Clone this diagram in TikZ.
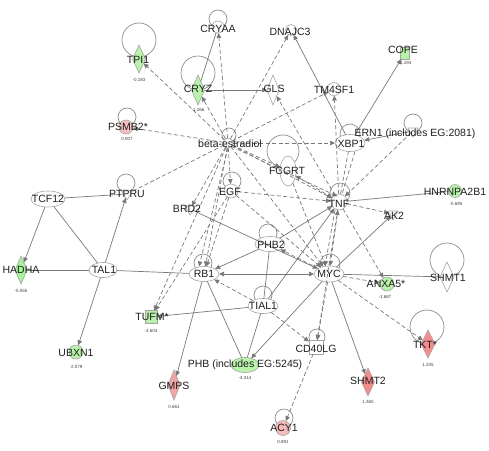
\documentclass[tikz,border=0pt]{standalone}
\usepackage{fontspec}
\setmainfont{Liberation Sans}
\usetikzlibrary{shapes.geometric,arrows.meta}
\definecolor{edgec}{RGB}{120,120,120}
\definecolor{shapec}{RGB}{165,165,165}
\definecolor{upc}{RGB}{242,165,165}
\definecolor{dnc}{RGB}{185,242,170}
\definecolor{txtc}{RGB}{30,30,30}
\begin{document}
\begin{tikzpicture}[x=1pt,y=-1pt,
  gn/.style={draw=shapec,line width=0.6pt,fill=white,inner sep=0pt,outer sep=0pt},
  ell/.style n args={2}{ellipse,minimum width=#1,minimum height=#2},
  dmd/.style n args={2}{diamond,minimum width=#1,minimum height=#2},
  circ/.style={circle,minimum size=#1},
  sq/.style n args={2}{rectangle,minimum width=#1,minimum height=#2},
  kin/.style={regular polygon,regular polygon sides=3,shape border rotate=180,minimum size=#1},
  lab/.style={font=\fontsize{10.5}{12}\selectfont,text=txtc,inner sep=0pt},
  val/.style={font=\fontsize{4.5}{5}\selectfont,text=black!75,inner sep=0pt},
  dl/.style={draw=edgec,line width=0.7pt},
  il/.style={draw=edgec,line width=0.7pt,dash pattern=on 4pt off 2.5pt},
  arr/.style={-{Triangle[length=5pt,width=4.5pt]}},
  barr/.style={{Triangle[length=5pt,width=4.5pt]}-{Triangle[length=5pt,width=4.5pt]}},
  lp/.style={draw=edgec!85,line width=0.7pt}
]
\useasboundingbox (0,0) rectangle (489,450);

% self loops
\draw[lp] (139,40) circle (17);
\draw[lp] (198,73) circle (17);
\draw[lp] (218,19) circle (9);
\draw[lp] (127,117) circle (9);
\draw[lp] (229,135) circle (7);
\draw[lp] (283,151) circle (16);
\draw[lp] (350,134) circle (10);
\draw[lp] (413,123) circle (9);
\draw[lp] (340,193) circle (10);
\draw[lp] (232,181) circle (9);
\draw[lp] (126,183) circle (9);
\draw[lp] (268,233) circle (9);
\draw[lp] (203,263) circle (9);
\draw[lp] (330,264) circle (10);
\draw[lp] (263,295) circle (9);
\draw[lp] (447,260) circle (17);
\draw[lp] (427,327) circle (17);
\draw[lp] (317,337) circle (8);
\draw[lp] (284,418) circle (9);

% shapes
\node[gn,circ=10] (estr) at (228,143) {};
\node[gn,dmd={13}{28},fill=dnc] (tpi1) at (139,59) {};
\node[gn,dmd={13}{30},fill=dnc] (cryz) at (198,90) {};
\node[gn,circ=12] (cryaa) at (218,27) {};
\node[gn,circ=11] (dnajc3) at (291,30) {};
\node[gn,dmd={12}{30}] (gls) at (273,90) {};
\node[gn,circ=13] (tm4sf1) at (334,89) {};
\node[gn,sq={9}{12},fill=dnc] (cope) at (405,53) {};
\node[gn,circ=14,fill=upc!70] (psmb2) at (126,127) {};
\node[gn,ell={30}{17}] (xbp1) at (350,143) {};
\node[gn,kin=12] (ern1) at (413,131) {};
\node[gn,ell={16}{30}] (fcgrt) at (288,171) {};
\node[gn,circ=16] (tnf) at (339,202) {};
\node[gn,circ=14] (egf) at (231,191) {};
\node[gn,kin=12] (brd2) at (190,209) {};
\node[gn,kin=12] (ptpru) at (127,194) {};
\node[gn,ell={34}{16}] (tcf12) at (48,199) {};
\node[gn,circ=13,fill=dnc] (hnrnp) at (455,191) {};
\node[gn,kin=12] (ak2) at (393,214) {};
\node[gn,ell={30}{15}] (phb2) at (270,244) {};
\node[gn,ell={30}{15}] (rb1) at (204,274) {};
\node[gn,ell={30}{16}] (myc) at (329,274) {};
\node[gn,ell={28}{15}] (tal1) at (103,270) {};
\node[gn,dmd={12}{28},fill=dnc!90!green] (hadha) at (21,270) {};
\node[gn,circ=14,fill=dnc] (anxa5) at (387,284) {};
\node[gn,dmd={14}{30}] (shmt1) at (447,277) {};
\node[gn,ell={30}{15}] (tial1) at (263,306) {};
\node[gn,sq={12}{13},fill=dnc] (tufm) at (151,317) {};
\node[gn,circ=14,fill=dnc] (ubxn1) at (76,352) {};
\node[gn,sq={14}{14}] (cd40lg) at (316,347) {};
\node[gn,ell={28}{15},fill=dnc] (phb) at (245,365) {};
\node[gn,dmd={12}{30},fill=upc] (gmps) at (174,385) {};
\node[gn,dmd={13}{28},fill=upc!85!red] (shmt2) at (368,382) {};
\node[gn,dmd={14}{28},fill=upc!85!red] (tkt) at (428,344) {};
\node[gn,circ=15,fill=upc!75] (acy1) at (283,428) {};

% direct (solid) relationships
\draw[dl] (cryaa) -- (cryz);
\draw[dl,arr] (cryz) -- (gls);
\draw[dl,arr] (xbp1) -- (dnajc3);
\draw[dl,arr] (xbp1) -- (cope);
\draw[dl,arr] (ern1) -- (xbp1);
\draw[dl] (hnrnp) -- (tnf);
\draw[dl,arr] (myc) -- (ak2);
\draw[dl] (myc) -- (shmt1);
\draw[dl,arr] (myc) -- (shmt2);
\draw[dl,arr] (myc) -- (phb);
\draw[dl,barr] (rb1) -- (myc);
\draw[dl,arr] (brd2) -- (myc);
\draw[dl,arr] (phb2) -- (tnf);
\draw[dl,arr] (phb2) -- (rb1);
\draw[dl] (phb2) -- (tial1);
\draw[dl] (tial1) -- (phb);
\draw[dl,arr] (tial1) -- (tnf);
\draw[dl,arr] (tial1) -- (tufm);
\draw[dl,arr] (rb1) -- (gmps);
\draw[dl] (rb1) -- (phb);
\draw[dl] (tal1) -- (rb1);
\draw[dl,arr] (tal1) -- (ubxn1);
\draw[dl,arr] (tal1) -- (ptpru);
\draw[dl] (tcf12) -- (tal1);
\draw[dl] (tcf12) -- (ptpru);
\draw[dl,arr] (tcf12) -- (hadha);
\draw[dl] (hadha) -- (tal1);

% indirect (dashed) relationships
\foreach \t in {tpi1,cryz,cryaa,psmb2,dnajc3,tm4sf1,xbp1,fcgrt,tnf,egf,brd2,rb1,tufm,myc}
  \draw[il,arr] (estr) -- (\t);
\draw[il] (estr) -- (ptpru);
\draw[il,arr] (estr.south) -- ([xshift=-5pt]rb1.north);
\draw[il,arr] (estr.south east) -- ([xshift=4pt]tnf.north west);
\draw[il,arr] (tnf) -- (gls);
\draw[il,arr] (tnf) -- (tm4sf1);
\draw[il] (xbp1) -- (tnf);
\draw[il] ([xshift=5pt]xbp1.south) -- ([xshift=3pt]tnf.north);
\draw[il,arr] (ern1) -- (tnf);
\draw[il,barr] (fcgrt) -- (tnf);
\draw[il,arr] (egf) -- (tnf);
\draw[il,arr] (tnf) -- (ak2);
\draw[il,arr] (tnf) -- (anxa5);
\draw[il,arr] (myc) -- (anxa5);
\draw[il,barr] (tnf) -- (myc);
\draw[il,arr] ([xshift=-4pt]tnf.south) -- ([xshift=-4pt]myc.north);
\draw[il,arr] (myc) -- (cd40lg);
\draw[il,arr] (tnf) -- (cd40lg);
\draw[il,arr] (myc) -- (tkt);
\draw[il,arr] (tial1) -- (cd40lg);
\draw[il,arr] (cd40lg) -- (acy1);
\draw[il,arr] (tial1) -- (rb1);
\draw[il,arr] (egf) -- (rb1);
\draw[il,arr] (egf) -- (myc);
\draw[il,arr] (egf) -- (tufm);
\draw[il,arr] (myc) -- (phb2);
\draw[il,arr] (fcgrt) -- (myc);

% labels
\node[lab] (estrl) at (230,144) {beta-estradiol};
\node[lab] (tpi1l) at (138,60) {TPI1};
\node[lab] (cryzl) at (198,89) {CRYZ};
\node[lab] (cryaal) at (218,29) {CRYAA};
\node[lab] (dnajc3l) at (290,32) {DNAJC3};
\node[lab] (glsl) at (274,89) {GLS};
\node[lab] (tm4sf1l) at (334,90) {TM4SF1};
\node[lab] (copel) at (403,50) {COPE};
\node[lab] (psmb2l) at (128,127) {PSMB2*};
\node[lab] (xbp1l) at (351,144) {XBP1};
\node[lab] (ern1l) at (415,134) {ERN1 (includes EG:2081)};
\node[lab] (fcgrtl) at (287,171) {FCGRT};
\node[lab] (tnfl) at (339,204) {TNF};
\node[lab] (egfl) at (230,192) {EGF};
\node[lab] (brd2l) at (187,209) {BRD2};
\node[lab] (ptprul) at (127,194) {PTPRU};
\node[lab] (tcf12l) at (48,199) {TCF12};
\node[lab] (hnrnpl) at (455,192) {HNRNPA2B1};
\node[lab] (ak2l) at (394,216) {AK2};
\node[lab] (phb2l) at (271,245) {PHB2};
\node[lab] (rb1l) at (204,274) {RB1};
\node[lab] (mycl) at (329,274) {MYC};
\node[lab] (tal1l) at (104,270) {TAL1};
\node[lab] (hadhal) at (21,270) {HADHA};
\node[lab] (anxa5l) at (386,284) {ANXA5*};
\node[lab] (shmt1l) at (448,278) {SHMT1};
\node[lab] (tial1l) at (263,306) {TIAL1};
\node[lab] (tufml) at (152,317) {TUFM*};
\node[lab] (ubxn1l) at (76,353) {UBXN1};
\node[lab] (cd40lgl) at (316,349) {CD40LG};
\node[lab] (phbl) at (245,365) {PHB (includes EG:5245)};
\node[lab] (gmpsl) at (174,386) {GMPS};
\node[lab] (shmt2l) at (368,381) {SHMT2};
\node[lab] (tktl) at (425,345) {TKT*};
\node[lab] (acy1l) at (284,428) {ACY1};

% fold-change values
\node[val] (tpi1v) at (139,80) {-0.183};
\node[val] (cryzv) at (198,110) {-1.266};
\node[val] (copev) at (405,63) {-1.194};
\node[val] (psmb2v) at (127,139) {0.907};
\node[val] (hnrnpv) at (456,204) {-0.695};
\node[val] (hadhav) at (21,291) {-5.555};
\node[val] (anxa5v) at (385,297) {-1.687};
\node[val] (tufmv) at (151,331) {-4.604};
\node[val] (ubxn1v) at (76,367) {-2.079};
\node[val] (phbv) at (245,378) {-4.314};
\node[val] (gmpsv) at (174,407) {0.661};
\node[val] (shmt2v) at (368,402) {1.360};
\node[val] (tktv) at (428,365) {1.205};
\node[val] (acy1v) at (283,442) {0.891};
\end{tikzpicture}
\end{document}
